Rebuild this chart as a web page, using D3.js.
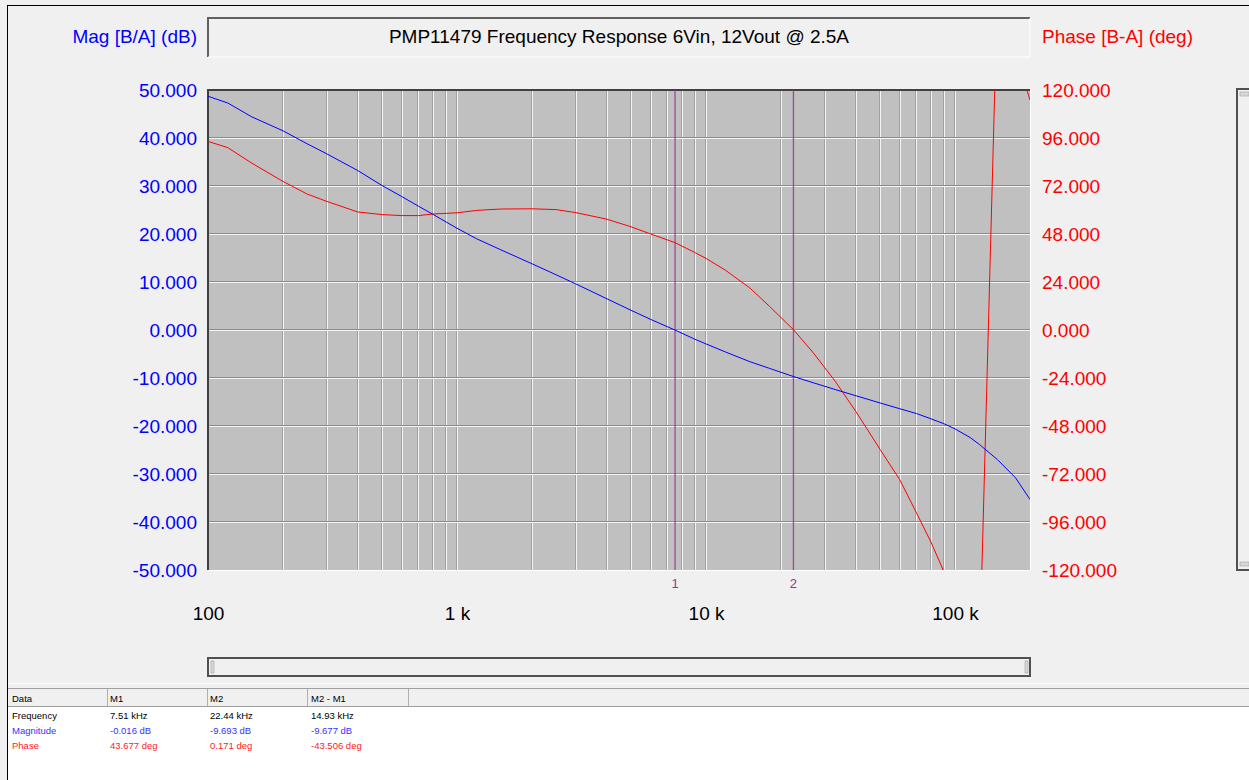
<!DOCTYPE html>
<html>
<head>
<meta charset="utf-8">
<script src="https://cdn.jsdelivr.net/npm/d3@7"></script>
<style>
  html, body { margin: 0; padding: 0; background: #f0f0f0; }
  svg { display: block; font-family: "Liberation Sans", Arial, sans-serif; }
</style>
</head>
<body>
<div id="chart"></div>
<script>
// frequency sweep (Hz) and the two measured traces
var freqs = [100, 120, 150, 200, 250, 300, 400, 500, 600, 700, 800, 1000, 1200, 1500, 2000, 2500, 3000,
  4000, 5000, 6000, 7510, 9000, 10000, 12000, 15000, 18000, 22440, 27000, 33000, 40000, 50000,
  60000, 70000, 80000, 90000, 100000, 115000, 125000, 148000, 175000, 200000];
var magDb = [48.7, 47.3, 44.4, 41.5, 38.8, 36.7, 33.2, 30.1, 27.8, 25.8, 24.1, 21.2, 19.0, 16.7, 13.8, 11.5, 9.6,
  6.5, 4.1, 2.2, -0.016, -1.9, -2.9, -4.6, -6.6, -8.0, -9.693, -11.0, -12.4, -13.7, -15.2,
  -16.4, -17.4, -18.5, -19.5, -20.6, -22.4, -23.8, -27.0, -30.8, -35.3];
var phaseDeg = [94.3, 91.2, 83.4, 74.3, 68.0, 64.3, 59.0, 57.7, 57.2, 57.2, 58.0, 58.6, 59.8, 60.5, 60.6, 60.2, 58.7,
  55.4, 51.6, 48.0, 43.677, 38.8, 35.8, 29.8, 21.0, 11.8, 0.171, -11.5, -25.6, -40.8, -59.7,
  -74.9, -91.4, -106, -120.5, -133, -153, -170, 170, 139, 115];

var magTicks = [-50, -40, -30, -20, -10, 0, 10, 20, 30, 40, 50];
var phaseTicks = [-120, -96, -72, -48, -24, 0, 24, 48, 72, 96, 120];
var decadeTicks = [100, 1000, 10000, 100000];
var decadeLabels = ["100", "1 k", "10 k", "100 k"];

var markerNames = ["M1", "M2"];
var markerFreqs = [7510, 22440];

var tableHeader = ["Data", "M1", "M2", "M2 - M1"];
var tableRows = ["Frequency", "Magnitude", "Phase"];
var tableFreq = ["7.51 kHz", "22.44 kHz", "14.93 kHz"];
var tableMag = ["-0.016 dB", "-9.693 dB", "-9.677 dB"];
var tablePhase = ["43.677 deg", "0.171 deg", "-43.506 deg"];

var title = "PMP11479 Frequency Response 6Vin, 12Vout @ 2.5A";

var W = 1249, H = 780;
var pL = 208, pR = 1030, pT = 90, pB = 570;
var blue = "#0000ff", red = "#ff0000", purple = "#993399";
var fs = 19;

var svg = d3.select("#chart").append("svg")
  .attr("width", W).attr("height", H);

svg.append("rect").attr("width", W).attr("height", H).attr("fill", "#f0f0f0");

var x = d3.scaleLog().domain([100, 200000]).range([pL, pR]);
var yMag = d3.scaleLinear().domain([-50, 50]).range([pB, pT]);
var yPh = d3.scaleLinear().domain([-120, 120]).range([pB, pT]);

// outer frame
svg.append("line").attr("x1", 7).attr("x2", W).attr("y1", 5.5).attr("y2", 5.5).attr("stroke", "#000");
svg.append("line").attr("x1", 7.5).attr("x2", 7.5).attr("y1", 5).attr("y2", H).attr("stroke", "#000");

// title box (sunken)
function sunken(g, x0, y0, w, h, dark) {
  g.append("rect").attr("x", x0).attr("y", y0).attr("width", w).attr("height", h).attr("fill", "#f0f0f0");
  g.append("path").attr("d", "M" + x0 + "," + (y0 + h) + "V" + y0 + "H" + (x0 + w))
    .attr("fill", "none").attr("stroke", dark).attr("stroke-width", 2);
  g.append("path").attr("d", "M" + x0 + "," + (y0 + h) + "H" + (x0 + w) + "V" + y0)
    .attr("fill", "none").attr("stroke", "#ffffff").attr("stroke-width", 1);
}
sunken(svg, 208, 18, 822, 39, "#606060");

svg.append("text").attr("x", 619).attr("y", 43).attr("text-anchor", "middle")
  .attr("font-size", fs).attr("fill", "#000").text(title);
svg.append("text").attr("x", 197).attr("y", 43).attr("text-anchor", "end")
  .attr("font-size", fs).attr("fill", blue).text("Mag [B/A] (dB)");
svg.append("text").attr("x", 1042).attr("y", 43)
  .attr("font-size", fs).attr("fill", red).text("Phase [B-A] (deg)");

// plot background
svg.append("rect").attr("x", pL).attr("y", pT).attr("width", pR - pL).attr("height", pB - pT)
  .attr("fill", "#c0c0c0");

// grid: each line drawn as a dark/light pair
var minor = [];
[100, 1000, 10000, 100000].forEach(function (d) {
  for (var k = 1; k < 10; k++) {
    var f = d * k;
    if (f > 100 && f < 200000) minor.push(f);
  }
});
var grid = svg.append("g");
grid.selectAll("line.vd").data(minor).enter().append("line")
  .attr("x1", function (d) { return Math.round(x(d)) - 0.5; })
  .attr("x2", function (d) { return Math.round(x(d)) - 0.5; })
  .attr("y1", pT).attr("y2", pB).attr("stroke", "#a0a0a0");
grid.selectAll("line.vl").data(minor).enter().append("line")
  .attr("x1", function (d) { return Math.round(x(d)) + 0.5; })
  .attr("x2", function (d) { return Math.round(x(d)) + 0.5; })
  .attr("y1", pT).attr("y2", pB).attr("stroke", "#f4f4f4");
grid.selectAll("line.hd").data(magTicks.slice(1, -1)).enter().append("line")
  .attr("x1", pL).attr("x2", pR)
  .attr("y1", function (d) { return Math.round(yMag(d)) - 0.5; })
  .attr("y2", function (d) { return Math.round(yMag(d)) - 0.5; })
  .attr("stroke", "#8c8c8c");
grid.selectAll("line.hl").data(magTicks.slice(1, -1)).enter().append("line")
  .attr("x1", pL).attr("x2", pR)
  .attr("y1", function (d) { return Math.round(yMag(d)) + 0.5; })
  .attr("y2", function (d) { return Math.round(yMag(d)) + 0.5; })
  .attr("stroke", "#f4f4f4");

// plot border
svg.append("path").attr("d", "M" + pL + "," + pB + "V" + pT + "H" + pR)
  .attr("fill", "none").attr("stroke", "#404040").attr("stroke-width", 2);
svg.append("path").attr("d", "M" + pL + "," + (pB + 0.5) + "H" + (pR + 0.5) + "V" + pT)
  .attr("fill", "none").attr("stroke", "#ffffff").attr("stroke-width", 1);

svg.append("clipPath").attr("id", "plotclip").append("rect")
  .attr("x", pL).attr("y", pT).attr("width", pR - pL).attr("height", pB - pT);

var plot = svg.append("g").attr("clip-path", "url(#plotclip)");

// markers
plot.selectAll("line.marker").data(markerFreqs).enter().append("line")
  .attr("x1", function (d) { return x(d); }).attr("x2", function (d) { return x(d); })
  .attr("y1", pT).attr("y2", pB)
  .attr("stroke", purple).attr("stroke-width", 1.3).attr("opacity", 0.85);
svg.selectAll("text.marker").data(markerFreqs).enter().append("text")
  .attr("x", function (d) { return x(d); }).attr("y", 588)
  .attr("text-anchor", "middle").attr("font-size", 13).attr("fill", purple)
  .text(function (d, i) { return i + 1; });

var magLine = d3.line()
  .x(function (d, i) { return x(freqs[i]); })
  .y(function (d) { return yMag(d); });
var phLine = d3.line()
  .x(function (d, i) { return x(freqs[i]); })
  .y(function (d) { return yPh(d); });

plot.append("path").datum(phaseDeg).attr("d", phLine)
  .attr("fill", "none").attr("stroke", red).attr("stroke-width", 1);
plot.append("path").datum(magDb).attr("d", magLine)
  .attr("fill", "none").attr("stroke", blue).attr("stroke-width", 1);

// axes (plain hyphen for the minus sign, as in the original)
var fmt = d3.formatLocale({ decimal: ".", thousands: ",", grouping: [3], currency: ["", ""], minus: "-" }).format(".3f");
var axL = svg.append("g").attr("transform", "translate(" + pL + ",0)")
  .call(d3.axisLeft(yMag).tickValues(magTicks).tickFormat(fmt).tickSize(0).tickPadding(11));
var axR = svg.append("g").attr("transform", "translate(" + pR + ",0)")
  .call(d3.axisRight(yPh).tickValues(phaseTicks).tickFormat(fmt).tickSize(0).tickPadding(12));
var axB = svg.append("g").attr("transform", "translate(0," + pB + ")")
  .call(d3.axisBottom(x).tickValues(decadeTicks)
    .tickFormat(function (d, i) { return decadeLabels[i]; }).tickSize(0).tickPadding(37));

[axL, axR, axB].forEach(function (a) {
  a.select(".domain").remove();
  a.selectAll("text").attr("font-family", "Liberation Sans, Arial, sans-serif").attr("font-size", fs);
});
axL.selectAll("text").attr("fill", blue);
axR.selectAll("text").attr("fill", red);
axB.selectAll("text").attr("fill", "#000");

// horizontal scrollbar under the plot
var sb = svg.append("g");
sb.append("rect").attr("x", 208).attr("y", 658).attr("width", 822).attr("height", 18)
  .attr("fill", "#f0f0f0").attr("stroke", "#505050").attr("stroke-width", 2);
[211, 1025].forEach(function (gx) {
  sb.append("rect").attr("x", gx).attr("y", 661).attr("width", 3).attr("height", 12)
    .attr("fill", "#d8d8d8").attr("stroke", "#a0a0a0").attr("stroke-width", 0.6);
});

// vertical scrollbar on the right
var vs = svg.append("g");
vs.append("rect").attr("x", 1237).attr("y", 89).attr("width", 13).attr("height", 481)
  .attr("fill", "#f0f0f0").attr("stroke", "#505050").attr("stroke-width", 2);
[92, 562].forEach(function (gy) {
  vs.append("rect").attr("x", 1240).attr("y", gy).attr("width", 9).attr("height", 4)
    .attr("fill", "#d8d8d8").attr("stroke", "#a0a0a0").attr("stroke-width", 0.6);
});

// data table
var tb = svg.append("g");
tb.append("line").attr("x1", 8).attr("x2", W).attr("y1", 683.5).attr("y2", 683.5).attr("stroke", "#ffffff");
tb.append("line").attr("x1", 8).attr("x2", W).attr("y1", 688.5).attr("y2", 688.5).attr("stroke", "#a0a0a0");
tb.append("line").attr("x1", 8).attr("x2", W).attr("y1", 706.5).attr("y2", 706.5).attr("stroke", "#a0a0a0");
tb.append("rect").attr("x", 8).attr("y", 707).attr("width", W - 8).attr("height", H - 707).attr("fill", "#ffffff");

var colX = [12, 110, 210, 311];
var divX = [107, 207, 307, 408];
tb.selectAll("line.div").data(divX).enter().append("line")
  .attr("x1", function (d) { return d + 0.5; }).attr("x2", function (d) { return d + 0.5; })
  .attr("y1", 689).attr("y2", 706).attr("stroke", "#b0b0b0");
tb.selectAll("text.hdr").data(tableHeader).enter().append("text")
  .attr("x", function (d, i) { return colX[i]; }).attr("y", 702)
  .attr("font-size", 9.5).attr("fill", "#000").text(function (d) { return d; });

var rowColors = ["#000000", "#3333ff", "#ff2020"];
var rowVals = [tableFreq, tableMag, tablePhase];
tableRows.forEach(function (r, i) {
  var yy = 719 + i * 15;
  tb.append("text").attr("x", colX[0]).attr("y", yy).attr("font-size", 9.5)
    .attr("fill", rowColors[i]).text(r);
  rowVals[i].forEach(function (v, j) {
    tb.append("text").attr("x", colX[j + 1]).attr("y", yy).attr("font-size", 9.5)
      .attr("fill", rowColors[i]).text(v);
  });
});
</script>
</body>
</html>
